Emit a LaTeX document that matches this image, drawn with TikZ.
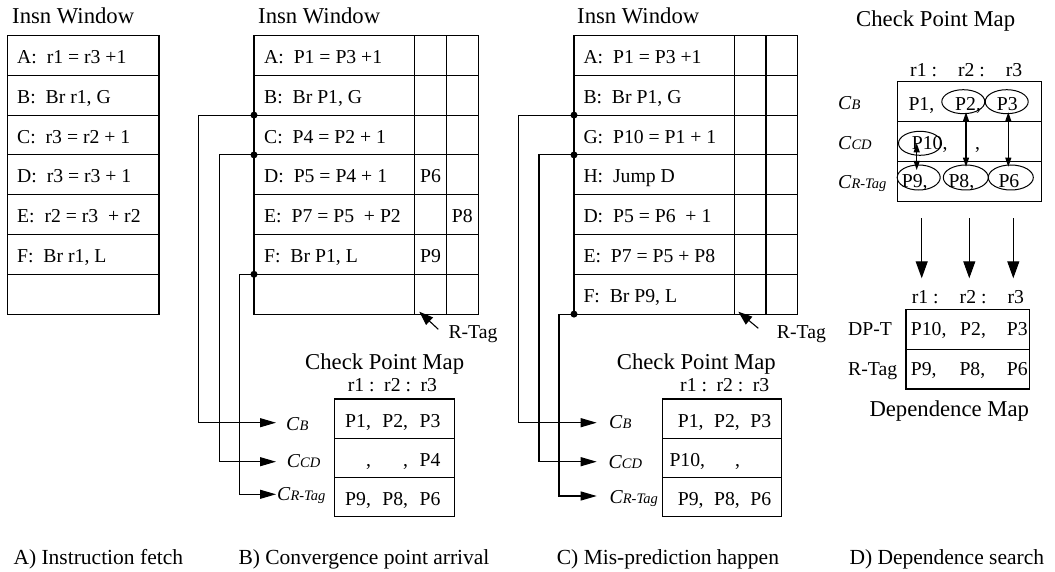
\documentclass[tikz,border=0pt]{standalone}
\usepackage{fontspec}
\setmainfont{Liberation Serif}
\usetikzlibrary{arrows.meta,shapes.geometric}
\newcommand\clab[1]{\textit{C}{\fontsize{14.5}{15}\selectfont\textit{#1}}}
\begin{document}
\begin{tikzpicture}[x=1pt,y=-1pt,
  tx/.style={inner sep=0,anchor=base west,font=\fontsize{19.7}{22}\selectfont},
  txc/.style={tx,anchor=base},
  ttl/.style={inner sep=0,anchor=base west,font=\fontsize{22.7}{26}\selectfont},
  capt/.style={inner sep=0,anchor=base west,font=\fontsize{21.5}{25}\selectfont},
  ln/.style={line width=1.1pt},
  arr/.style={ln,-{Triangle[length=16pt,width=9pt]}},
  bigarr/.style={ln,-{Triangle[length=17pt,width=12pt]}},
  rarr/.style={ln,-{Triangle[length=14pt,width=10pt]}},
  dblarr/.style={ln,{Triangle[length=9pt,width=6pt]}-{Triangle[length=9pt,width=6pt]}},
  ell/.style={draw,ellipse,line width=1pt,inner sep=0,minimum width=43pt,minimum height=24pt},
  dot/.style={circle,fill,inner sep=0,minimum size=7pt},
]
\useasboundingbox (0,0) rectangle (1055,572);

% ---------------- Panel A ----------------
\node[ttl] (tA) at (12,23.3) {Insn Window};
\draw[ln] (7.3,35.5) rectangle (159,314.1);
\foreach \y in {75.3,115.1,154.9,194.7,234.5,274.3} \draw[ln] (7.3,\y) -- (159,\y);
\node[tx] (a1) at (17,63.5) {A:\ \ r1 = r3 +1};
\node[tx] (a2) at (17,103.3) {B:\ \ Br r1, G};
\node[tx] (a3) at (17,143.1) {C:\ \ r3 = r2 + 1};
\node[tx] (a4) at (17,182.9) {D:\ \ r3 = r3 + 1};
\node[tx] (a5) at (17,222.7) {E:\ \ r2 = r3\ \ + r2};
\node[tx] (a6) at (17,262.5) {F:\ \ Br r1, L};

% ---------------- Panel B ----------------
\node[ttl] (tB) at (258,24) {Insn Window};
\draw[ln] (254,35.5) rectangle (478.3,314.1);
\foreach \y in {75.3,115.1,154.9,194.7,234.5,274.3} \draw[ln] (254,\y) -- (478.3,\y);
\draw[ln] (414.3,35.5) -- (414.3,314.1);
\draw[ln] (446.7,35.5) -- (446.7,314.1);
\node[tx] (b1) at (264,63.5) {A:\ \ P1 = P3 +1};
\node[tx] (b2) at (264,103.3) {B:\ \ Br P1, G};
\node[tx] (b3) at (264,143.1) {C:\ \ P4 = P2 + 1};
\node[tx] (b4) at (264,182.9) {D:\ \ P5 = P4 + 1};
\node[tx] (b5) at (264,222.7) {E:\ \ P7 = P5\ \ + P2};
\node[tx] (b6) at (264,262.5) {F:\ \ Br P1, L};
\node[txc] (bP6) at (430.6,182.9) {P6};
\node[txc] (bP8) at (462.2,222.7) {P8};
\node[txc] (bP9) at (430.6,262.5) {P9};

\node[dot] (dB1) at (254,115.1) {};
\node[dot] (dB2) at (254,154.9) {};
\node[dot] (dB3) at (254,274.3) {};

\coordinate (rtB0) at (438.3,329.3);
\coordinate (rtB1) at (419.3,311.7);
\draw[rarr] (rtB0) -- (rtB1);
\node[tx] (rtB) at (448.3,338.3) {R-Tag};

\node[ttl] (cpB) at (305,369) {Check Point Map};
\node[tx] (rrB) at (347.7,391.7) {r1 :\hspace{9.5pt}r2 :\hspace{9.5pt}r3};
\draw[ln] (334.3,399) rectangle (454.3,516.6);
\draw[ln] (334.3,438.2) -- (454.3,438.2);
\draw[ln] (334.3,477.4) -- (454.3,477.4);
\node[tx] (cB1) at (345,427) {P1,\hspace{11.5pt}P2,\hspace{11.5pt}P3};
\node[tx] (cB2) at (345,466.2) {\phantom{P1},\hspace{11.5pt}\phantom{P2},\hspace{11.5pt}P4};
\node[tx] (cB3) at (345,505.4) {P9,\hspace{11.5pt}P8,\hspace{11.5pt}P6};

\node[tx] (lBcb) at (286,430) {\clab{B}};
\node[tx] (lBccd) at (286.7,467.7) {\clab{CD}};
\node[tx] (lBcr) at (277,500) {\clab{R-Tag}};
\coordinate (tBcb) at (276,422.7);
\coordinate (tBccd) at (276,461.7);
\coordinate (tBcr) at (276,494.3);
\draw[arr] (dB1.center) -- ++(-55.7,0) |- (tBcb);
\draw[arr] (dB2.center) -- ++(-34.7,0) |- (tBccd);
\draw[arr] (dB3.center) -- ++(-14.7,0) |- (tBcr);

% ---------------- Panel C ----------------
\node[ttl] (tC) at (577,24) {Insn Window};
\draw[ln] (574,35.5) rectangle (797.7,314.1);
\foreach \y in {75.3,115.1,154.9,194.7,234.5,274.3} \draw[ln] (574,\y) -- (797.7,\y);
\draw[ln] (734.3,35.5) -- (734.3,314.1);
\draw[ln] (766,35.5) -- (766,314.1);
\node[tx] (c1) at (583.3,63.5) {A:\ \ P1 = P3 +1};
\node[tx] (c2) at (583.3,103.3) {B:\ \ Br P1, G};
\node[tx] (c3) at (583.3,143.1) {G:\ \ P10 = P1 + 1};
\node[tx] (c4) at (583.3,182.9) {H:\ \ Jump D};
\node[tx] (c5) at (583.3,222.7) {D:\ \ P5 = P6\ \ + 1};
\node[tx] (c6) at (583.3,262.5) {E:\ \ P7 = P5 + P8};
\node[tx] (c7) at (583.3,302.3) {F:\ \ Br P9, L};

\node[dot] (dC1) at (574,115.1) {};
\node[dot] (dC2) at (574,154.9) {};
\node[dot] (dC3) at (574,314.1) {};

\coordinate (rtC0) at (758.3,328.3);
\coordinate (rtC1) at (738.3,311.7);
\draw[rarr] (rtC0) -- (rtC1);
\node[tx] (rtC) at (776.7,338) {R-Tag};

\node[ttl] (cpC) at (616.7,369.3) {Check Point Map};
\node[tx] (rrC) at (680,391.7) {r1 :\hspace{9.5pt}r2 :\hspace{9.5pt}r3};
\draw[ln] (662.3,399) rectangle (781.7,516.6);
\draw[ln] (662.3,438.2) -- (781.7,438.2);
\draw[ln] (662.3,477.4) -- (781.7,477.4);
\node[tx] (cC1) at (677.7,427) {P1,\hspace{10.5pt}P2,\hspace{10.5pt}P3};
\node[tx] (cC2) at (669.3,466.2) {P10,\hspace{30pt},};
\node[tx] (cC3) at (677.7,505.4) {P9,\hspace{10.5pt}P8,\hspace{10.5pt}P6};

\node[tx] (lCcb) at (609,428) {\clab{B}};
\node[tx] (lCccd) at (608.3,468.3) {\clab{CD}};
\node[tx] (lCcr) at (609.3,503) {\clab{R-Tag}};
\coordinate (tCcb) at (596.7,422.7);
\coordinate (tCccd) at (596.7,461.7);
\coordinate (tCcr) at (596.7,496);
\draw[arr] (dC1.center) -- ++(-55.7,0) |- (tCcb);
\draw[arr] (dC2.center) -- ++(-35,0) |- (tCccd);
\draw[arr] (dC3.center) -- ++(-15,0) |- (tCcr);

% ---------------- Panel D ----------------
\node[ttl] (cpD) at (856,26.7) {Check Point Map};
\node[tx] (rrD) at (910,76.7) {r1 :\hspace{21pt}r2 :\hspace{21pt}r3};
\draw[ln] (897.5,81.7) rectangle (1041.7,201.3);
\draw[ln] (897.5,121.7) -- (1041.7,121.7);
\draw[ln] (897.5,161.5) -- (1041.7,161.5);
\node[tx] (lDcb) at (838,110) {\clab{B}};
\node[tx] (lDccd) at (838,150) {\clab{CD}};
\node[tx] (lDcr) at (838,188.3) {\clab{R-Tag}};

\node[ell] (eP2) at (963.3,101.7) {};
\node[ell] (eP3) at (1006.7,101.7) {};
\node[ell] (eP10) at (920,143.3) {};
\node[ell,minimum height=25pt] (eP9) at (918.7,177.5) {};
\node[ell,minimum width=45pt,minimum height=25pt] (eP8) at (965.8,177.5) {};
\node[ell,minimum width=45pt,minimum height=25pt] (eP6) at (1010.8,177.5) {};

\node[tx] (dP1) at (908.3,111) {P1,};
\node[tx] (dP2) at (955,111) {P2,};
\node[tx] (dP3) at (996.7,111) {P3};
\node[tx] (dP10) at (911.7,150) {P10,};
\node[tx] (dcm) at (975,150) {,};
\node[tx] (dP9) at (901.7,187.7) {P9,};
\node[tx] (dP8) at (948.3,187.7) {P8,};
\node[tx] (dP6) at (998.3,187.7) {P6};

\coordinate (x1a) at (916.7,143.3);
\coordinate (x1b) at (916.7,170);
\coordinate (x2a) at (966,112.3);
\coordinate (x2b) at (966,166.7);
\coordinate (x3a) at (1008.3,112.3);
\coordinate (x3b) at (1008.3,166.7);
\draw[dblarr] (x1a) -- (x1b);
\draw[dblarr] (x2a) -- (x2b);
\draw[dblarr] (x3a) -- (x3b);

\coordinate (v1a) at (921.7,218.3);
\coordinate (v1b) at (921.7,278.3);
\coordinate (v2a) at (969.3,218.3);
\coordinate (v2b) at (969.3,278.3);
\coordinate (v3a) at (1013.3,218.3);
\coordinate (v3b) at (1013.3,278.3);
\draw[bigarr] (v1a) -- (v1b);
\draw[bigarr] (v2a) -- (v2b);
\draw[bigarr] (v3a) -- (v3b);

\node[tx] (rrD2) at (911.7,303.3) {r1 :\hspace{21pt}r2 :\hspace{21pt}r3};
\draw[ln] (906,309.3) rectangle (1029.3,389);
\draw[ln] (906,349.3) -- (1029.3,349.3);
\node[tx] (ldp) at (848,335) {DP-T};
\node[tx] (lrt) at (848,375.7) {R-Tag};
\node[tx] (m1) at (910.7,335) {P10,};
\node[tx] (m2) at (960,335) {P2,};
\node[tx] (m3) at (1006.7,335) {P3};
\node[tx] (m4) at (910.7,375.7) {P9,};
\node[tx] (m5) at (959.3,375.7) {P8,};
\node[tx] (m6) at (1006.7,375.7) {P6};
\node[ttl] (dmD) at (869.3,416.7) {Dependence Map};

% ---------------- Captions ----------------
\node[capt] (capA) at (13.3,564) {A) Instruction fetch};
\node[capt] (capB) at (238.3,564) {B) Convergence point arrival};
\node[capt] (capC) at (556.7,564) {C) Mis-prediction happen};
\node[capt] (capD) at (849.3,564) {D) Dependence search};
\end{tikzpicture}
\end{document}
